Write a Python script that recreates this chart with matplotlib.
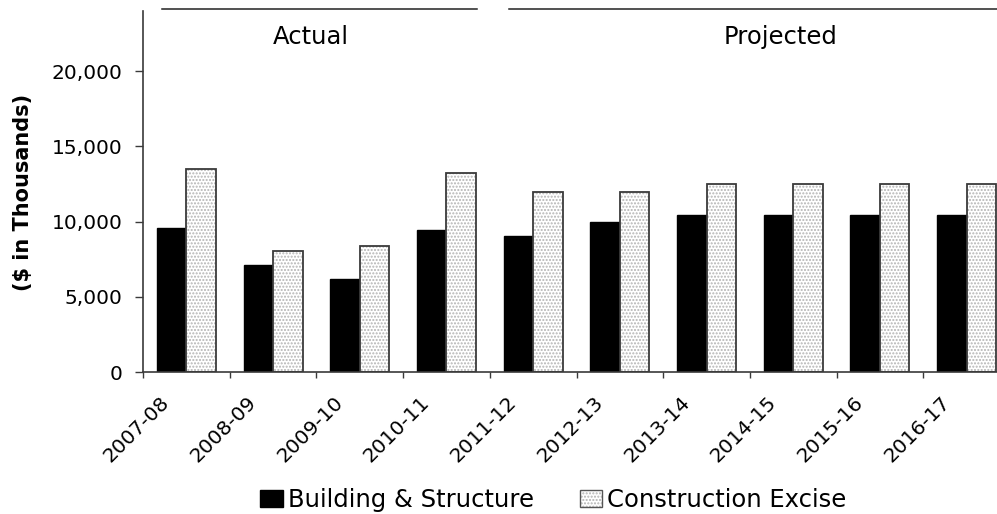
import matplotlib
matplotlib.use("Agg")
import matplotlib.pyplot as plt
import matplotlib.patches as mpatches
from matplotlib.legend_handler import HandlerTuple
from matplotlib.transforms import ScaledTranslation
from matplotlib.ticker import FuncFormatter
import numpy as np

plt.rcParams['font.family'] = ['DejaVu Sans']
plt.rcParams['hatch.color'] = '#b4b4b4'
plt.rcParams['hatch.linewidth'] = 1.0

years = ["2007-08", "2008-09", "2009-10", "2010-11", "2011-12",
         "2012-13", "2013-14", "2014-15", "2015-16", "2016-17"]
building = [9600, 7100, 6150, 9450, 9050, 10000, 10450, 10450, 10450, 10450]
excise = [13500, 8050, 8400, 13200, 11950, 11950, 12500, 12500, 12500, 12500]
series_names = ["Building & Structure", "Construction Excise"]
yticks = [0, 5000, 10000, 15000, 20000]
group_labels = ["Actual", "Projected"]

W, H = 997, 514
fig = plt.figure(figsize=(W / 100, H / 100), dpi=100)
ax = fig.add_axes([143 / W, (H - 372) / H, 867 / W, 361 / H])

x = np.arange(len(years))
bw = 0.34
b1 = ax.bar(x - bw / 2, building, bw, color='black', edgecolor='black', linewidth=1.0)
b2 = ax.bar(x + bw / 2, excise, bw, color='white', hatch='.....', linewidth=0)
b2e = ax.bar(x + bw / 2, excise, bw, fill=False, edgecolor='#3a3a3a', linewidth=1.3)

ax.set_xlim(-0.5, len(years) - 0.5)
ax.set_ylim(0, 24000)
ax.set_yticks(yticks)
ax.yaxis.set_major_formatter(FuncFormatter(lambda v, p: f"{v:,.0f}"))

ax.set_xticks(x)
ax.set_xticklabels(years, rotation=45, ha='right', va='top')
ax.set_xticks(np.arange(-0.5, len(years)), minor=True)
ax.tick_params(axis='x', which='major', length=0, pad=15, labelsize=14.5)
ax.tick_params(axis='x', which='minor', length=4.2, width=1, color='#3a3a3a')
ax.tick_params(axis='y', length=5.5, width=1, color='#3a3a3a', pad=9, labelsize=14.5)
off = ScaledTranslation(-13 / 100, 0, fig.dpi_scale_trans)
for lab in ax.get_xticklabels():
    lab.set_transform(lab.get_transform() + off)

for s in ['top', 'right']:
    ax.spines[s].set_visible(False)
for s in ['left', 'bottom']:
    ax.spines[s].set_color('#3a3a3a')
    ax.spines[s].set_linewidth(1.2)

fig.text(23 / W, 1 - 192 / H, "($ in Thousands)", rotation=90, ha='center', va='center',
         fontweight='bold', fontsize=15)

# group annotations
ly = 1 - 8.5 / H
fig.add_artist(plt.Line2D([162 / W, 477 / W], [ly, ly], color='#222222', lw=1.1))
fig.add_artist(plt.Line2D([509 / W, 1.0], [ly, ly], color='#222222', lw=1.1))
fig.text(311 / W, 1 - 44 / H, group_labels[0], ha='center', va='baseline', fontsize=17.5)
fig.text(781 / W, 1 - 44 / H, group_labels[1], ha='center', va='baseline', fontsize=17.5)

h1 = mpatches.Patch(facecolor='black', edgecolor='black')
h2a = mpatches.Patch(facecolor='white', hatch='.....', linewidth=0)
h2b = mpatches.Patch(fill=False, edgecolor='#555555', linewidth=1.0)
fig.legend([h1, (h2a, h2b)], series_names, loc='center', bbox_to_anchor=(0.555, 1 - 500 / H),
           ncol=2, frameon=False, fontsize=17.5, handlelength=0.93, handleheight=0.72,
           handletextpad=0.2, columnspacing=1.9, borderaxespad=0, borderpad=0,
           handler_map={tuple: HandlerTuple(ndivide=1, pad=0)})

fig.savefig("out.png", dpi=100)
